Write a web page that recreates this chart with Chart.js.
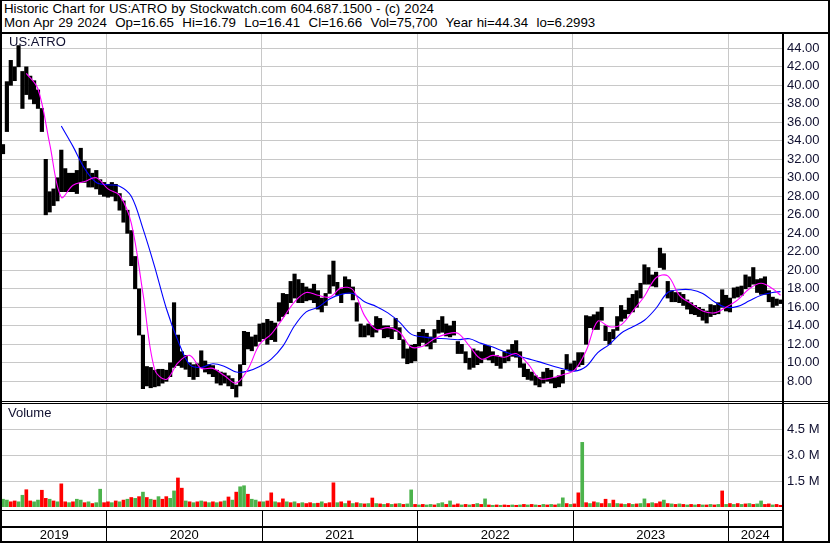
<!DOCTYPE html>
<html>
<head>
<meta charset="utf-8">
<script src="https://cdn.jsdelivr.net/npm/chart.js@4.4.1/dist/chart.umd.min.js"></script>
<style>
  html, body { margin: 0; padding: 0; background: #fff; }
  #wrap { position: relative; width: 830px; height: 543px; overflow: hidden; font-family: "Liberation Sans", Arial, sans-serif; }
  .hdr { position: absolute; left: 4px; font-size: 13.3px; line-height: 14px; color: #000; white-space: pre; word-spacing: 0.5px; }
  .lbl { position: absolute; font-size: 13px; line-height: 14px; color: #101030; white-space: pre; }
  canvas { position: absolute; left: 0; }
  .ln { position: absolute; background: #000; }
</style>
</head>
<body>
<div id="wrap">
  <div class="hdr" style="top:2px">Historic Chart for US:ATRO by Stockwatch.com 604.687.1500 - (c) 2024</div>
  <div class="hdr" style="top:16px">Mon Apr 29 2024  Op=16.65  Hi=16.79  Lo=16.41  Cl=16.66  Vol=75,700  Year hi=44.34  lo=6.2993</div>

  <canvas id="price" width="830" height="367" style="top:34px"></canvas>
  <canvas id="volume" width="830" height="138" style="top:404px"></canvas>

  <div class="lbl" style="left:9px;top:35px">US:ATRO</div>
  <div class="lbl" style="left:8px;top:406px">Volume</div>

  <!-- frame -->
  <div class="ln" style="left:0;top:0;width:830px;height:1px"></div>
  <div class="ln" style="left:0;top:0;width:2px;height:543px"></div>
  <div class="ln" style="left:828px;top:0;width:2px;height:543px"></div>
  <div class="ln" style="left:0;top:541px;width:830px;height:2px"></div>
  <div class="ln" style="left:0;top:32px;width:830px;height:2px"></div>
  <div class="ln" style="left:782px;top:34px;width:2px;height:508px"></div>
  <div class="ln" style="left:0;top:401px;width:830px;height:1px"></div>
  <div class="ln" style="left:0;top:403px;width:830px;height:1px"></div>
</div>

<script>
// weekly sampling of the daily chart, x = decimal year
const firstWeek = 2019.335;
const weekStep = 0.025;
const xMin = 2019.3286;
const xMax = 2024.3447;

const yearStarts = [2020, 2021, 2022, 2023, 2024];
const yearMids = [2019.664, 2020.5, 2021.5, 2022.5, 2023.5, 2024.172];
const yearLabels = ['2019', '2020', '2021', '2022', '2023', '2024'];
const priceTicks = [8, 10, 12, 14, 16, 18, 20, 22, 24, 26, 28, 30, 32, 34, 36, 38, 40, 42, 44];
const volTicks = [1.5, 3.0, 4.5];

const priceHigh = [
  33.6, 40.4, 42.7, 42, 44.3, 41.5, 42, 41, 40.5, 39.5,
  37.5, 32, 28.5, 28.8, 30, 33, 31, 30.5, 30.5, 30.8,
  33.2, 31.8, 31, 30.5, 30.8, 29.8, 29.5, 29.3, 29.5, 29.3,
  28.3, 27.5, 26.5, 24.3, 21.5, 18, 13, 9.6, 9.5, 9.2,
  9.3, 9.3, 9.2, 10, 16.5, 13, 11.2, 10.8, 10, 9.8,
  9.9, 11.3, 10.2, 9.8, 9.7, 9.2, 9, 8.9, 8.6, 8.3,
  7.6, 9.8, 13.4, 13.3, 12.8, 13, 14.2, 14.3, 14.7, 14.5,
  14.3, 16.5, 17.5, 17.4, 18.8, 19.6, 19, 18.6, 18.2, 18,
  18.5, 17.8, 17, 17.5, 19.5, 21, 18.7, 18, 19.3, 19,
  18.2, 16.5, 14.2, 14, 14.2, 14, 15, 14.8, 14, 14,
  13.8, 14.8, 13.8, 12.5, 11.5, 11.9, 12, 13.3, 13.6, 13.2,
  12.8, 13.6, 14.6, 15, 14.2, 14, 14.5, 12.3, 12, 11.2,
  10.5, 11.5, 11.3, 11.2, 11.9, 11.8, 11.2, 10.8, 10.6, 11.2,
  11.4, 12, 12.4, 11.2, 9.9, 9.3, 9, 8.6, 8.4, 9,
  9.4, 9.2, 8.4, 8.6, 9.2, 10.9, 9.9, 10.2, 11.1, 11.1,
  15.1, 15, 15.2, 15.5, 16, 14, 13.3, 13.6, 15, 16.2,
  15.7, 17, 17.4, 17.8, 18.6, 20.6, 20.3, 19.5, 19.8, 22.4,
  21.8, 18.8, 17.8, 17.6, 17.6, 17.4, 16.8, 16.5, 16.2, 16,
  15.8, 15.6, 16.3, 16.2, 16.5, 17.9, 17.3, 17, 18.1, 18.2,
  18.3, 19.5, 19.3, 20.3, 19, 19.1, 19.3, 17.8, 17.1, 16.9,
  16.8
];

const priceLow = [
  32.6, 35, 40, 40.5, 42, 37.5, 39, 38.5, 38, 37.5,
  35, 26, 26.3, 27, 27.5, 28.5, 28.5, 28.5, 28.5, 28.3,
  29.5, 29.5, 29, 29, 28.8, 28.2, 28, 27.9, 28, 27.5,
  26.5, 25.2, 24, 20.5, 18, 13, 7.2, 7.5, 7.3, 7.4,
  7.5, 7.8, 8, 8.5, 9.5, 9.7, 9.5, 9.3, 8.5, 8.2,
  8.5, 9.5, 9, 8.8, 8.5, 7.8, 7.6, 7.8, 7.5, 7.2,
  6.3, 7.5, 9.8, 11.5, 11.3, 11.8, 12.3, 12.6, 12, 12.5,
  12.3, 14.5, 15, 15.3, 16.5, 17, 16.5, 16.5, 16.7, 16.8,
  16.5, 15.8, 15.5, 16.2, 17.5, 18.3, 17.3, 16.5, 17.5, 17.5,
  16.8, 14.5, 12.8, 12.8, 13, 12.8, 13.3, 13.6, 12.7, 12.8,
  12.6, 13.4, 12.5, 10.5, 9.9, 10, 10.2, 11.8, 12.2, 11.8,
  11.5, 12.2, 13.2, 13.3, 12.9, 12.8, 13, 11, 11, 10,
  9.3, 9.5, 9.8, 10, 10.4, 10.3, 10, 9.7, 9.4, 10,
  10.2, 10.7, 10.6, 9.5, 8.5, 8.2, 8.1, 7.6, 7.4, 7.8,
  8, 7.8, 7.3, 7.4, 7.8, 9.3, 9.1, 9.2, 9.6, 9.8,
  12, 13.8, 13.6, 13.6, 14.6, 12.4, 12, 12.6, 13.5, 14.5,
  14.8, 15.3, 15.5, 16, 17, 18.5, 18.5, 18.3, 18.2, 20.3,
  20.1, 17, 16.6, 16.6, 16.5, 16.2, 15.8, 15.3, 15.2, 15,
  14.6, 14.3, 15, 15.2, 15.3, 16, 15.6, 15.5, 17, 17.1,
  17.3, 18, 18.2, 18.5, 17.6, 17.4, 17.4, 16.6, 16, 16.2,
  16.4
];

// moving averages, one value every 3rd week (last one = last week)
const maFast = [
  null, null, 41.3, 39.6, 33.7, 27.9, 29.2, 29.6, 30, 28.8,
  28.1, 25.1, 17.5, 9.3, 8.2, 10, 10.8, 9.4, 9.4, 8.6,
  7.8, 9.3, 12, 13.1, 14.8, 16.6, 17.6, 17.3, 17.1, 18.1,
  17.9, 15.1, 13.6, 13.8, 13.3, 11.7, 11.8, 12.6, 13.1, 13.2,
  11.8, 10.4, 10.8, 10.6, 11, 9.9, 8.3, 8.35, 8.7, 9.2,
  11.3, 14.5, 13.9, 14.1, 15.6, 17.2, 19.2, 19.4, 17.3, 16.4,
  15.6, 15.4, 16, 16.8, 18, 18.6, 18, 17.3
];
const maSlow = [
  null, null, null, null, null, 35.6, 33.4, 31, 29.5, 29.25,
  29.1, 28, 24.5, 20.4, 15.9, 12.4, 9.8, 9.5, 9.9, 9.6,
  9, 9.1, 9.6, 10.4, 11.8, 14, 15.5, 16, 16.9, 17.4,
  17.5, 16.6, 16.1, 15.4, 14.4, 13.1, 12.8, 12.65, 12.6, 12.5,
  12.6, 12.1, 11.7, 11.2, 10.8, 10.45, 10.1, 9.7, 9.35, 9.1,
  9.6, 11.1, 12, 13.2, 13.9, 14.6, 15.9, 17.6, 17.9, 17.9,
  17.5, 16.6, 16, 16.1, 16.7, 17.3, 17.6, 17.7
];

// volume in millions, g = up, r = down
const volume = [
  0.45, 0.4, 0.3, 0.35, 0.3, 0.68, 1.0, 0.35, 0.3, 0.4,
  0.97, 0.5, 0.45, 0.35, 0.3, 1.34, 0.3, 0.25, 0.3, 0.45,
  0.4, 0.25, 0.3, 0.2, 0.25, 1.03, 0.25, 0.3, 0.25, 0.35,
  0.3, 0.4, 0.45, 0.55, 0.5, 0.6, 0.86, 0.55, 0.45, 0.4,
  0.6, 0.45, 0.6, 0.5, 0.93, 1.68, 1.09, 0.35, 0.3, 0.25,
  0.3, 0.35, 0.3, 0.25, 0.3, 0.25, 0.3, 0.35, 0.58, 0.4,
  0.86, 1.17, 1.23, 0.74, 0.45, 0.4, 0.3, 0.3, 0.35, 0.82,
  0.3, 0.25, 0.47, 0.3, 0.25, 0.3, 0.2, 0.25, 0.2, 0.25,
  0.2, 0.22, 0.3, 0.2, 0.25, 1.4, 0.25, 0.3, 0.2, 0.35,
  0.2, 0.25, 0.2, 0.18, 0.2, 0.52, 0.2, 0.18, 0.15, 0.2,
  0.15, 0.18, 0.2, 0.15, 0.18, 0.99, 0.15, 0.12, 0.15, 0.12,
  0.15, 0.12, 0.2, 0.25, 0.15, 0.35, 0.12, 0.18, 0.12, 0.15,
  0.12, 0.15, 0.2, 0.15, 0.47, 0.12, 0.1, 0.12, 0.1, 0.12,
  0.1, 0.12, 0.1, 0.12, 0.15, 0.12, 0.15, 0.12, 0.1, 0.15,
  0.12, 0.15, 0.12, 0.18, 0.53, 0.2, 0.15, 0.18, 0.82, 3.74,
  0.25, 0.2, 0.3, 0.25, 0.2, 0.45, 0.2, 0.4, 0.2, 0.18,
  0.15, 0.2, 0.15, 0.18, 0.2, 0.47, 0.2, 0.25, 0.2, 0.3,
  0.4, 0.2, 0.18, 0.15, 0.18, 0.15, 0.12, 0.15, 0.12, 0.15,
  0.12, 0.12, 0.15, 0.12, 0.15, 0.93, 0.15, 0.2, 0.15, 0.2,
  0.15, 0.18, 0.2, 0.15, 0.18, 0.35, 0.15, 0.18, 0.12, 0.15,
  0.1
];
const volDir = (
  'ggrrggrrgg rrgrgrrgrg grgrggrrgr grgrgrgrgr grrggrrgrg ' +
  'rgrgrgrgrg rggrggrgrr grrgrgrgrr grgrrrgrgr grgrgrgrgr ' +
  'grgrggrgrg grggrgrrgr grgrgrgrgr rgrgrgrgrg rgrggrgrrg ' +
  'rgrgrrgrgr grgrggrgrr grgrgrgrgr grgrgrgrgr grgrggrrgr r'
).replace(/ /g, '').split('');

const weekX = i => firstWeek + i * weekStep;
const maX = k => weekX(Math.min(k * 3, priceHigh.length - 1));

const FONT = { family: 'Liberation Sans', size: 13 };
const GRID = '#c8c8c8';
const TXT = '#101030';

// Chart.js reserves room for half of the end labels; this chart doesn't
const noPad = s => { s.paddingTop = 0; s.paddingBottom = 0; s.paddingLeft = 0; s.paddingRight = 0; };

function yearGridAxis() {
  return {
    type: 'linear', min: xMin, max: xMax, offset: false,
    grid: { color: GRID, drawTicks: false, offset: false },
    border: { display: false },
    ticks: { display: false },
    afterBuildTicks: s => { s.ticks = yearStarts.map(v => ({ value: v })); },
    afterFit: s => { s.height = 0; noPad(s); }
  };
}

new Chart(document.getElementById('price'), {
  type: 'bar',
  data: {
    datasets: [
      {
        type: 'line', order: 0,
        data: maFast.map((v, k) => ({ x: maX(k), y: v })),
        borderColor: '#ff00ff', borderWidth: 1.1, pointRadius: 0, tension: 0.35
      },
      {
        type: 'line', order: 0,
        data: maSlow.map((v, k) => ({ x: maX(k), y: v })),
        borderColor: '#0000ff', borderWidth: 1.1, pointRadius: 0, tension: 0.35
      },
      {
        type: 'bar', order: 1,
        data: priceHigh.map((h, i) => ({ x: weekX(i), y: [priceLow[i], h] })),
        backgroundColor: '#000', barThickness: 3.5
      }
    ]
  },
  options: {
    responsive: false, animation: false,
    layout: { padding: { left: 2, right: 0, top: 0, bottom: 0 } },
    plugins: { legend: { display: false }, tooltip: { enabled: false } },
    scales: {
      x: yearGridAxis(),
      y: {
        position: 'right', min: 5.87, max: 45.55,
        grid: { color: GRID, drawTicks: false },
        border: { display: false },
        ticks: { padding: 5, color: TXT, font: FONT, callback: v => v.toFixed(2) },
        afterBuildTicks: s => { s.ticks = priceTicks.map(v => ({ value: v })); },
        afterFit: s => { s.width = 48; noPad(s); }
      }
    }
  }
});

// black dividers of the year strip under the volume panel
const stripLines = {
  id: 'stripLines',
  afterDraw(chart) {
    const { ctx, chartArea, scales } = chart;
    ctx.save();
    ctx.fillStyle = '#000';
    const top = chartArea.bottom + 3;
    ctx.fillRect(0, top, chartArea.right, 1);
    ctx.fillRect(0, top + 16, chartArea.right, 2);
    yearStarts.forEach(y => {
      const px = Math.round(scales.x.getPixelForValue(y));
      ctx.fillRect(px, top, 1, chart.height - top);
    });
    ctx.restore();
  }
};

new Chart(document.getElementById('volume'), {
  type: 'bar',
  data: {
    datasets: [{
      data: volume.map((v, i) => ({ x: weekX(i), y: v })),
      backgroundColor: volDir.map(d => d === 'g' ? '#4cb34c' : '#ff0000'),
      barThickness: 3
    }]
  },
  options: {
    responsive: false, animation: false,
    layout: { padding: { left: 2, right: 0, top: 0, bottom: 0 } },
    plugins: { legend: { display: false }, tooltip: { enabled: false } },
    scales: {
      x: yearGridAxis(),
      years: {
        type: 'linear', axis: 'x', position: 'bottom', min: xMin, max: xMax, offset: false,
        grid: { display: false, drawTicks: false, offset: false },
        border: { display: false },
        ticks: {
          padding: 21, color: '#000', font: FONT, autoSkip: false, maxRotation: 0,
          callback: (v, idx) => yearLabels[idx]
        },
        afterBuildTicks: s => { s.ticks = yearMids.map(v => ({ value: v })); },
        afterFit: s => { s.height = 35; noPad(s); }
      },
      y: {
        position: 'right', min: 0, max: 5.96,
        grid: { color: GRID, drawTicks: false },
        border: { display: false },
        ticks: { padding: 5, color: TXT, font: FONT, callback: v => v.toFixed(1) + ' M' },
        afterBuildTicks: s => { s.ticks = volTicks.map(v => ({ value: v })); },
        afterFit: s => { s.width = 48; noPad(s); }
      }
    }
  },
  plugins: [stripLines]
});
</script>
</body>
</html>
